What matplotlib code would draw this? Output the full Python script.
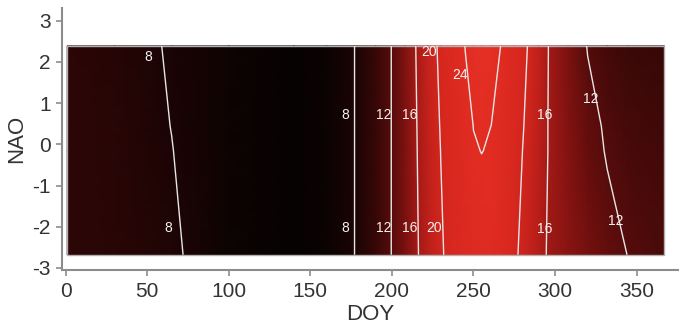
import numpy as np
import matplotlib
matplotlib.use("Agg")
import matplotlib.pyplot as plt
from matplotlib.colors import LinearSegmentedColormap, Normalize

plt.rcParams['font.family'] = ['Liberation Sans', 'DejaVu Sans']
plt.rcParams['axes.unicode_minus'] = False

# ---- data ----
doy = [1, 30, 65, 100, 140, 160, 177, 190, 200, 208, 215, 222, 230, 238,
       245, 250, 255, 261, 267, 275, 283, 290, 296, 308, 320, 332, 345, 367]
nao = [-2.68, -0.16, 0.44, 2.39]

z_nao_m268 = [9.6, 9.2, 8.4, 6.4, 5.6, 6.3, 7.98, 10.2, 12.07, 13.8, 15.7, 17.3, 19.6, 21.4,
              22.5, 23.0, 23.3, 23.2, 22.7, 20.6, 18.5, 17.0, 15.7, 14.6, 13.6, 12.7, 11.95, 11.4]
z_nao_m016 = [9.6, 9.1, 8.05, 6.5, 5.6, 6.3, 7.98, 10.2, 12.07, 13.95, 15.85, 17.8, 20.05, 22.0,
              23.2, 23.9, 24.02, 23.9, 23.1, 21.2, 19.3, 17.5, 15.9, 14.3, 12.8, 11.85, 11.3, 10.9]
z_nao_p044 = [9.6, 9.1, 7.97, 6.5, 5.6, 6.3, 7.98, 10.2, 12.07, 14.0, 15.9, 17.9, 20.2, 22.2,
              23.4, 24.02, 24.4, 23.98, 23.2, 21.4, 19.5, 17.6, 15.9, 14.2, 12.7, 11.7, 11.1, 10.7]
z_nao_p239 = [9.6, 9.0, 7.79, 6.6, 5.6, 6.3, 7.98, 10.2, 12.07, 14.1, 16.1, 18.3, 20.7, 22.6,
              24.05, 24.6, 25.0, 24.8, 23.95, 22.1, 20.02, 17.9, 15.98, 13.9, 11.9, 11.0, 10.5, 10.2]

contour_levels = [8, 12, 16, 20, 24]

label_text = ["8", "8", "8", "8", "12", "12", "16", "16", "20", "20", "24", "16", "16", "12", "12"]
label_doy = [50.5, 62.7, 171.7, 171.7, 195, 195, 210.8, 210.8, 223, 226, 242, 293.4, 293.4, 321.6, 337]
label_nao = [2.13, -2.03, 0.72, -2.03, 0.72, -2.03, 0.72, -2.03, 2.25, -2.03, 1.69, 0.72, -2.05, 1.09, -1.86]

x_ticks = [0, 50, 100, 150, 200, 250, 300, 350]
y_ticks = [-3, -2, -1, 0, 1, 2, 3]

# ---- figure ----
fig = plt.figure(figsize=(6.79, 3.26), dpi=100)
ax = fig.add_axes([0.0913, 0.1718, 0.9087, 0.8037])

Z = np.array([z_nao_m268, z_nao_m016, z_nao_p044, z_nao_p239])
X = np.array(doy)
Y = np.array(nao)

node_vals = [5.5, 8, 10, 12, 14, 16, 18, 20, 24, 25.5]
node_cols = [(5, 2, 2), (28, 4, 4), (50, 7, 7), (85, 12, 11), (125, 18, 16),
             (165, 26, 22), (195, 33, 27), (212, 38, 30), (225, 44, 34), (230, 50, 38)]
vmin, vmax = node_vals[0], node_vals[-1]
cmap = LinearSegmentedColormap.from_list(
    "heat", [((v - vmin) / (vmax - vmin), tuple(c / 255 for c in col))
             for v, col in zip(node_vals, node_cols)])
norm = Normalize(vmin=vmin, vmax=vmax)

ax.pcolormesh(X, Y, Z, shading='gouraud', cmap=cmap, norm=norm)
ax.contour(X, Y, Z, levels=contour_levels, colors='#e6e6e6', linewidths=1.0)
ax.add_patch(plt.Rectangle((X.min(), Y.min()), X.max() - X.min(), Y.max() - Y.min(),
                           fill=False, edgecolor='#b0b0b0', linewidth=1.0))

for t, xd, yd in zip(label_text, label_doy, label_nao):
    ax.text(xd, yd, t, color='#f2f2f2', fontsize=10, ha='center', va='center')

ax.set_xlim(-2.2, 376)
ax.set_ylim(-3.05, 3.31)
ax.set_xticks(x_ticks)
ax.set_yticks(y_ticks)
for s in ['top', 'right']:
    ax.spines[s].set_visible(False)
for s in ['left', 'bottom']:
    ax.spines[s].set_color('#8c8c8c')
    ax.spines[s].set_linewidth(1.5)
ax.tick_params(axis='both', colors='#8c8c8c', labelcolor='#333333', labelsize=15,
               length=4, width=1.2, direction='out')
ax.tick_params(axis='y', pad=4)
ax.tick_params(axis='x', pad=5)
ax.set_xlabel("DOY", fontsize=16, color='#333333', labelpad=2)
ax.set_ylabel("NAO", fontsize=16, color='#333333', labelpad=4)

fig.savefig("out.png", dpi=100)
